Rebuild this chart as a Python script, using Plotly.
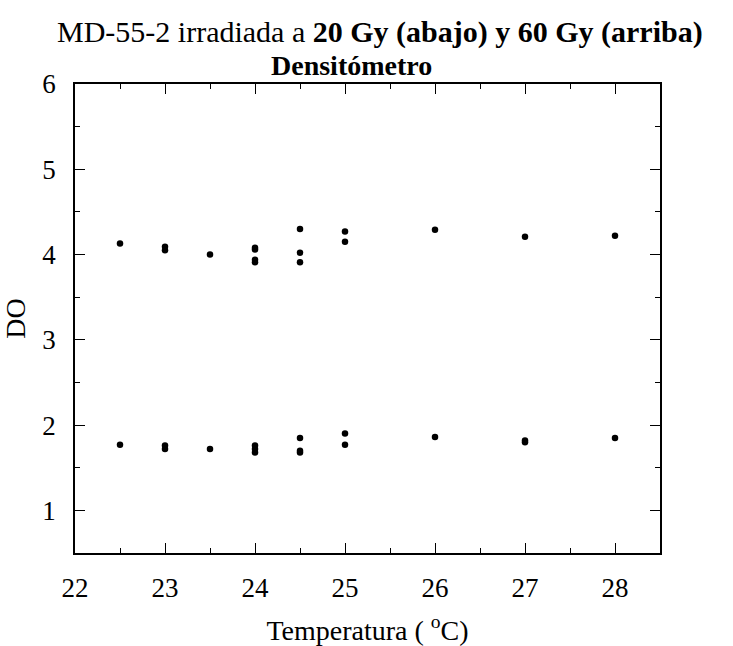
import plotly.graph_objects as go

# Upper group (60 Gy)
temp_60 = [22.5, 23, 23, 23.5, 24, 24, 24, 24, 24.5, 24.5, 24.5, 25, 25, 26, 27, 28]
do_60 = [4.13, 4.09, 4.05, 4.00, 4.08, 4.06, 3.94, 3.91, 4.30, 4.02, 3.91, 4.27, 4.15, 4.29, 4.21, 4.22]

# Lower group (20 Gy)
temp_20 = [22.5, 23, 23, 23.5, 24, 24, 24, 24.5, 24.5, 24.5, 25, 25, 26, 27, 27, 28]
do_20 = [1.77, 1.76, 1.72, 1.72, 1.76, 1.72, 1.68, 1.85, 1.70, 1.68, 1.90, 1.77, 1.86, 1.82, 1.80, 1.85]

x_ticks = [22, 23, 24, 25, 26, 27, 28]
y_ticks = [1, 2, 3, 4, 5, 6]

title_line1 = "MD-55-2 irradiada a <b>20 Gy (abajo) y 60 Gy (arriba)</b>"
title_line2 = "<b>Densitómetro</b>"
x_title = "Temperatura ( <sup>o</sup>C)"
y_title = "DO"

FONT = "Liberation Serif"

fig = go.Figure()
for xs, ys in [(temp_60, do_60), (temp_20, do_20)]:
    fig.add_trace(go.Scatter(
        x=xs, y=ys, mode="markers",
        marker=dict(color="black", size=6.5, line=dict(width=0)),
        showlegend=False, hoverinfo="x+y",
    ))

axis_common = dict(
    showline=True, linecolor="black", linewidth=1.5, mirror="allticks",
    ticks="inside", ticklen=10, tickwidth=1.2, tickcolor="black",
    showgrid=False, zeroline=False, automargin=False,
    tickfont=dict(family=FONT, size=27, color="black"),
)

fig.update_layout(
    width=733, height=646,
    font=dict(family=FONT, size=27, color="black"),
    paper_bgcolor="white", plot_bgcolor="white",
    margin=dict(l=75, r=73, t=84, b=93),
    xaxis=dict(
        range=[22, 28.5], tickvals=x_ticks, ticktext=[str(v) for v in x_ticks],
        minor=dict(dtick=0.5, tick0=22, ticks="inside", ticklen=5, tickcolor="black", tickwidth=1),
        title=dict(text=x_title, font=dict(family=FONT, size=28, color="black"), standoff=20),
        ticklabelstandoff=10,
        **axis_common,
    ),
    yaxis=dict(
        range=[0.5, 6], tickvals=y_ticks, ticktext=[str(v) for v in y_ticks],
        minor=dict(dtick=0.5, tick0=0.5, ticks="inside", ticklen=5, tickcolor="black", tickwidth=1),
        title=dict(text=y_title, font=dict(family=FONT, size=28, color="black"), standoff=10),
        ticklabelstandoff=12,
        **axis_common,
    ),
    annotations=[
        dict(text=title_line1, xref="paper", yref="paper", x=0.5, y=1, xshift=12, yshift=84 - 32,
             xanchor="center", yanchor="middle", showarrow=False,
             font=dict(family=FONT, size=30, color="black")),
        dict(text=title_line2, xref="paper", yref="paper", x=0.5, y=1, xshift=-16, yshift=84 - 65,
             xanchor="center", yanchor="middle", showarrow=False,
             font=dict(family=FONT, size=28, color="black")),
    ],
)

fig.write_html(
    "out.html",
    config={"displayModeBar": False},
    post_script="document.body.style.margin='0';document.body.style.overflow='hidden';",
)
